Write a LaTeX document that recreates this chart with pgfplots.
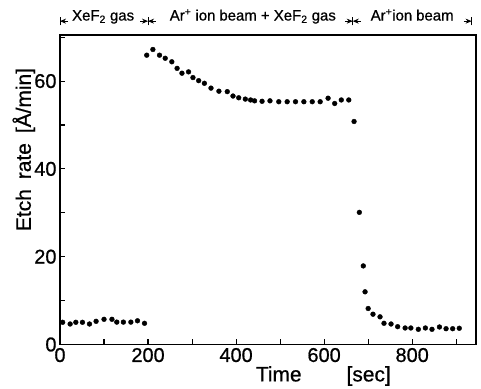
\documentclass[border=0pt]{standalone}
\usepackage{pgfplots}
\pgfplotsset{compat=1.18}
\usepackage{fontspec}
\setmainfont{Liberation Sans}[FakeBold=0.7]
\usetikzlibrary{arrows.meta}
\begin{document}
\begin{tikzpicture}
\begin{axis}[
  width=416bp, height=309.5bp, scale only axis,
  xmin=0, xmax=945, ymin=0, ymax=70.5,
  xtick={0,100,...,900}, xticklabels={0,,200,,400,,600,,800,},
  ytick={0,10,...,70}, yticklabels={0,,20,,40,,60,},
  tick align=inside, major tick length=5bp,
  xtick pos=bottom, ytick pos=left,
  axis line style={line width=1.1pt},
  every tick/.style={line width=1.1pt, black},
  /pgf/number format/assume math mode=true,
  ticklabel style={font=\fontsize{20}{22}\selectfont},
  ylabel={Etch\hspace{10bp}rate\hspace{10bp}[Å/min]},
  ylabel style={at={(rel axis cs:-0.087,0.63)}, anchor=center, font=\fontsize{21}{23}\selectfont},
  xlabel={Time\hspace{45bp}[sec]},
  xlabel style={at={(rel axis cs:0.633,0)}, anchor=center, yshift=-31.5bp, font=\fontsize{21}{23}\selectfont},
  clip=false,
]
\addplot[only marks, mark=*, mark size=2.4bp, black] coordinates {
(6,5.06) (23,4.67) (36,5.06) (51,5.06) (67,4.67) (82,5.28) (100,5.74) (118,5.74)
(129,5.1) (144,5.1) (161,5.1) (176,5.4) (192,4.83)
(197,65.9) (211,67.2) (226,65.9) (239,65.2) (254,64.4) (266,62.9) (277,61.8) (292,62.1)
(302,60.8) (315,60.1) (328,59.5) (343,58.4) (361,57.7) (380,57.6) (393,56.6) (406,56.2)
(421,55.9) (433,55.7) (442,55.5) (459,55.4) (477,55.5) (497,55.3) (516,55.3) (535,55.3)
(554,55.3) (573,55.3) (591,55.3) (609,56.1) (624,54.9) (639,55.7) (656,55.7)
(668,50.8) (680,30.1) (689,17.9) (693,12.0) (700,8.2) (711,6.9) (727,6.3) (736,4.83)
(752,4.67) (767,4.06) (784,3.76) (797,3.76) (814,3.46) (830,3.76) (845,3.46) (862,3.99)
(877,3.6) (892,3.6) (907,3.7)
};
\coordinate (SW) at (rel axis cs:0,0);
\coordinate (NE) at (rel axis cs:1,1);
% phase annotations
\draw[line width=0.8pt] (axis cs:0,72.7) -- (axis cs:0,74.6);
\draw[line width=0.8pt] (axis cs:200,72.7) -- (axis cs:200,74.6);
\draw[line width=0.8pt] (axis cs:665,72.7) -- (axis cs:665,74.6);
\draw[line width=0.8pt] (axis cs:935,72.7) -- (axis cs:935,74.6);
\draw[-{Stealth[length=6bp,width=5bp]}, line width=0.8pt] (axis cs:18,73.65) -- (axis cs:0,73.65);
\draw[-{Stealth[length=6bp,width=5bp]}, line width=0.8pt] (axis cs:182,73.65) -- (axis cs:200,73.65);
\draw[-{Stealth[length=6bp,width=5bp]}, line width=0.8pt] (axis cs:218,73.65) -- (axis cs:200,73.65);
\draw[-{Stealth[length=6bp,width=5bp]}, line width=0.8pt] (axis cs:647,73.65) -- (axis cs:665,73.65);
\draw[-{Stealth[length=6bp,width=5bp]}, line width=0.8pt] (axis cs:683,73.65) -- (axis cs:665,73.65);
\draw[-{Stealth[length=6bp,width=5bp]}, line width=0.8pt] (axis cs:917,73.65) -- (axis cs:935,73.65);
\node[anchor=base, font=\fontsize{15}{17}\selectfont] at (axis cs:98,73.8) {XeF\textsubscript{2} gas};
\node[anchor=base, font=\fontsize{15}{17}\selectfont] at (axis cs:438,73.8) {Ar\textsuperscript{+} ion\hspace{4bp}beam + XeF\textsubscript{2} gas};
\node[anchor=base, font=\fontsize{15}{17}\selectfont] at (axis cs:800,73.8) {Ar\textsuperscript{+}ion\hspace{4bp}beam};
\end{axis}
\pgfresetboundingbox
\path ([shift={(-60bp,-44.5bp)}]SW) rectangle ([shift={(5bp,35bp)}]NE);
\end{tikzpicture}
\end{document}
